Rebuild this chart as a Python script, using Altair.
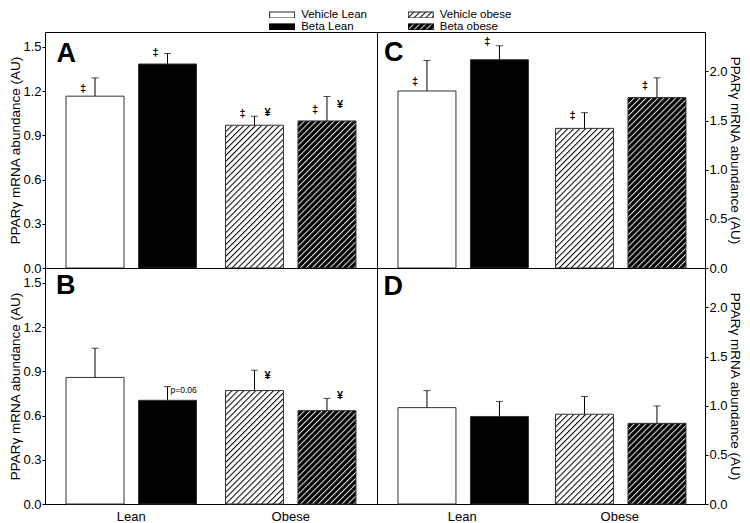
import altair as alt
import pandas as pd
from urllib.parse import quote

FONT = "Liberation Sans"
YTITLE = "PPARγ mRNA abundance (AU)"

# ---------------- data ----------------
treatments = ["Vehicle Lean", "Beta Lean", "Vehicle obese", "Beta obese"]
groups = ["Lean", "Lean", "Obese", "Obese"]
drugs = ["Vehicle", "Beta", "Vehicle", "Beta"]
panels = ["A", "B", "C", "D"]

mean_A = [1.165, 1.383, 0.968, 0.997]
upper_A = [1.289, 1.454, 1.029, 1.163]
mean_B = [0.858, 0.703, 0.769, 0.633]
upper_B = [1.056, 0.796, 0.907, 0.716]
mean_C = [1.80, 2.118, 1.42, 1.733]
upper_C = [2.11, 2.26, 1.58, 1.934]
mean_D = [0.98, 0.89, 0.913, 0.82]
upper_D = [1.153, 1.043, 1.093, 0.997]

ann_panel = ["A", "A", "A", "A", "A", "A", "B", "B", "C", "C", "C", "C"]
ann_treatment = ["Vehicle Lean", "Beta Lean", "Vehicle obese", "Vehicle obese",
                 "Beta obese", "Beta obese", "Vehicle obese", "Beta obese",
                 "Vehicle Lean", "Beta Lean", "Vehicle obese", "Beta obese"]
ann_symbol = ["‡", "‡", "‡", "¥", "‡", "¥", "¥", "¥", "‡", "‡", "‡", "‡"]
ann_side = ["left", "left", "left", "right", "left", "right",
            "right", "right", "left", "left", "left", "left"]
ann_y = [1.215, 1.46, 1.047, 1.054, 1.069, 1.103, 0.866, 0.731, 1.89, 2.295, 1.55, 1.85]

pval_panel = ["B"]
pval_treatment = ["Beta Lean"]
pval_text = ["p=0.06"]
pval_y = [0.772]

legend_labels = ["Vehicle Lean", "Beta Lean", "Vehicle obese", "Beta obese"]
legend_col = [0, 0, 1, 1]
legend_row = [0, 1, 0, 1]

# ---------------- tables ----------------
rows = []
for p, ms, us in zip(panels, [mean_A, mean_B, mean_C, mean_D], [upper_A, upper_B, upper_C, upper_D]):
    for t, g, dr, m, u in zip(treatments, groups, drugs, ms, us):
        rows.append(dict(panel=p, treatment=t, group=g, drug=dr, mean=m, upper=u))
bars = pd.DataFrame(rows)
keys = bars[["panel", "treatment", "group", "drug"]]

ann = pd.DataFrame(dict(panel=ann_panel, treatment=ann_treatment, text=ann_symbol,
                        side=ann_side, y=ann_y)).merge(keys, on=["panel", "treatment"])
pval = pd.DataFrame(dict(panel=pval_panel, treatment=pval_treatment, text=pval_text,
                         y=pval_y)).merge(keys, on=["panel", "treatment"])
legend_df = pd.DataFrame(dict(label=legend_labels, col=legend_col, row=legend_row))


# ---------------- hatch images ----------------
def svg_uri(bg, fg=None, border=None):
    s = "<svg xmlns='http://www.w3.org/2000/svg'>"
    if fg:
        s += ("<defs><pattern id='h' patternUnits='userSpaceOnUse' width='4.2' height='4.2' "
              "patternTransform='rotate(45)'>"
              f"<rect width='4.2' height='4.2' fill='{bg}'/><rect width='1' height='4.2' fill='{fg}'/>"
              "</pattern></defs><rect width='100%' height='100%' fill='url(#h)'/>")
    else:
        s += f"<rect width='100%' height='100%' fill='{bg}'/>"
    if border:
        s += f"<rect width='100%' height='100%' fill='none' stroke='{border}' stroke-width='2'/>"
    s += "</svg>"
    return "data:image/svg+xml," + quote(s, safe="")


HATCH_W = svg_uri("white", "black")
HATCH_B = svg_uri("black", "#e8e8e8")
bar_uri_expr = f"datum.treatment == 'Vehicle obese' ? '{HATCH_W}' : '{HATCH_B}'"
legend_uri_expr = (
    f"datum.label == 'Vehicle Lean' ? '{svg_uri('white', None, '#222')}' : "
    f"datum.label == 'Beta Lean' ? '{svg_uri('black', None, 'black')}' : "
    f"datum.label == 'Vehicle obese' ? '{svg_uri('white', 'black', '#222')}' : "
    f"'{svg_uri('black', '#e8e8e8', 'black')}'"
)


# ---------------- panels ----------------
def make_panel(p, ymax, yticks, orient, show_x, width, height, letter_dx, letter_dy):
    d = bars[bars.panel == p]
    a = ann[ann.panel == p]
    pv = pval[pval.panel == p]
    yaxis = alt.Axis(orient=orient, values=yticks, format=".1f", grid=False, domain=False,
                     tickSize=3, labelPadding=1, titlePadding=0, labelFontSize=13,
                     titleFontSize=13.5, titleFontWeight="normal")
    yscale = alt.Scale(domain=[0, ymax], nice=False, zero=True)
    xaxis = (alt.Axis(labelAngle=0, ticks=False, domain=False, labelPadding=6, labelFontSize=13)
             if show_x else None)
    xscale = alt.Scale(paddingInner=0, paddingOuter=0.041)
    xenc = alt.X("group:N", sort=["Lean", "Obese"], axis=xaxis, title=None, scale=xscale)
    xoff = alt.XOffset("drug:N", sort=["Vehicle", "Beta"],
                       scale=alt.Scale(paddingInner=0.2, paddingOuter=0.2))

    def Y(f):
        return alt.Y(f, scale=yscale, axis=yaxis, title=YTITLE)

    base = alt.Chart(d).encode(x=xenc, xOffset=xoff)
    fill = base.mark_bar(strokeWidth=0).encode(
        y=Y("mean:Q"),
        fill=alt.Fill("treatment:N", scale=alt.Scale(domain=treatments,
                                                     range=["white", "black", "white", "black"]),
                      legend=None))
    hatch = (base.transform_filter(alt.FieldOneOfPredicate(field="treatment",
                                                          oneOf=["Vehicle obese", "Beta obese"]))
             .transform_calculate(zero="0", uri=bar_uri_expr)
             .mark_image(aspect=False)
             .encode(y=Y("mean:Q"), y2=alt.Y2("zero:Q"), url=alt.Url("uri:N")))
    outline = base.mark_bar(fillOpacity=0, stroke="#333333", strokeWidth=1).encode(y=Y("mean:Q"))
    err = base.mark_rule(color="black", strokeWidth=1).encode(y=Y("mean:Q"), y2=alt.Y2("upper:Q"))
    cap = base.mark_tick(color="black", thickness=1, size=7).encode(y=Y("upper:Q"))
    layers = [fill, hatch, outline, err, cap]
    if len(a):
        ab = alt.Chart(a).encode(x=xenc, xOffset=xoff, y=Y("y:Q"), text="text:N")
        if (a.side == "left").any():
            layers.append(ab.transform_filter("datum.side == 'left'")
                          .mark_text(dx=-12, fontSize=11, color="black", fontWeight="bold"))
        if (a.side == "right").any():
            layers.append(ab.transform_filter("datum.side == 'right'")
                          .mark_text(dx=13, fontSize=11, color="black", fontWeight="bold"))
    if len(pv):
        layers.append(alt.Chart(pv).encode(x=xenc, xOffset=xoff, y=Y("y:Q"), text="text:N")
                      .mark_text(dx=3, align="left", fontSize=8.5, color="black"))
    # panel letter, anchored at the top-left corner of the plot (first band start, y max)
    letter = alt.Chart(pd.DataFrame({"letter": [p]})).mark_text(
        align="left", baseline="top", dx=letter_dx, dy=letter_dy, fontSize=27,
        fontWeight="bold", color="black").encode(
        x=alt.X(datum="Lean", bandPosition=0, scale=xscale, axis=xaxis, title=None),
        y=alt.Y(datum=ymax, scale=yscale, axis=yaxis, title=YTITLE),
        text="letter:N")
    layers.append(letter)
    return alt.layer(*layers).properties(width=width, height=height)


H = 236
ticks_l = [0.0, 0.3, 0.6, 0.9, 1.2, 1.5]
ticks_r = [0.0, 0.5, 1.0, 1.5, 2.0]
pA = make_panel("A", 1.6, ticks_l, "left", False, 332, H, 5, 9.0)
pB = make_panel("B", 1.6, ticks_l, "left", True, 332, H, 4.5, 5.4)
pC = make_panel("C", 2.4, ticks_r, "right", False, 328, H, 0.5, 7.5)
pD = make_panel("D", 2.4, ticks_r, "right", True, 328, H, 0, 5.6)


# ---------------- legend (two halves, one above each column) ----------------
def make_legend(col, width, xdomain):
    leg = alt.Chart(legend_df[legend_df.col == col]).encode(
        x=alt.X("col:Q", axis=None, scale=alt.Scale(domain=xdomain, nice=False, zero=False)),
        y=alt.Y("row:Q", axis=None, scale=alt.Scale(domain=[-0.5, 1.4167], nice=False,
                                                     zero=False, reverse=True)),
    )
    boxes = leg.transform_calculate(uri=legend_uri_expr).mark_image(
        width=26, height=7, aspect=False).encode(url=alt.Url("uri:N"))
    texts = leg.mark_text(align="left", dx=19, fontSize=11.5, color="black").encode(text="label:N")
    return alt.layer(boxes, texts).properties(
        width=width, height=23, view=alt.ViewBackground(stroke="transparent"))


legL = make_legend(0, 332, [-2.5, 1.0])
legR = make_legend(1, 328, [0.8, 2.3])

chart = (
    alt.concat(legL, legR, pA, pC, pB, pD, columns=2, spacing=0, bounds="flush")
    .properties(padding=0)
    .configure_view(stroke="black", strokeWidth=1)
    .configure_axis(labelFont=FONT, titleFont=FONT, labelColor="black", titleColor="black",
                    tickColor="black")
    .configure_text(font=FONT)
)

chart.save("out.html", embed_options={"renderer": "svg", "actions": False})
